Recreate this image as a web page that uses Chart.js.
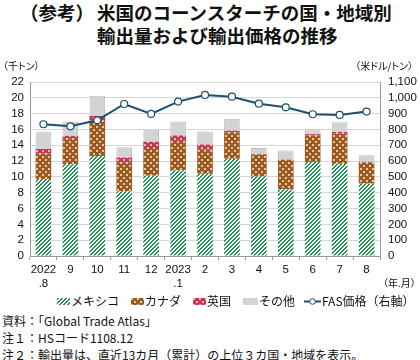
<!DOCTYPE html>
<html>
<head>
<meta charset="utf-8">
<script src="https://cdn.jsdelivr.net/npm/chart.js@4"></script>
<style>
  body { margin: 0; background: #fff; }
  #wrap { position: relative; width: 420px; height: 360px; overflow: hidden;
          font-family: "Noto Sans CJK JP", sans-serif; color: #111; }
  #wrap div { position: absolute; white-space: nowrap; line-height: 1; }
  #chart { position: absolute; left: 0; top: 60px; }
  .sw { position: absolute; }
  .small { font-size: 10px; font-feature-settings: "palt"; }
  .leg { font-size: 12px; }
  .note { font-size: 12px; left: 2px; }
</style>
</head>
<body>
<div id="wrap">
  <canvas id="chart" width="420" height="232" style="width:420px;height:232px"></canvas>

  <div style="left:20px;top:3px;font-size:18.5px;font-weight:bold">（参考）</div>
  <div style="left:97px;top:3px;font-size:18.5px;font-weight:bold">米国のコーンスターチの国・地域別</div>
  <div style="left:97px;top:26px;font-size:18.5px;font-weight:bold">輸出量および輸出価格の推移</div>

  <div class="small" style="left:3px;top:61px">（千トン）</div>
  <div class="small" style="right:7px;top:61px">（米ドル/トン）</div>
  <div class="small" style="left:383px;top:278px">（年.月）</div>

  <canvas class="sw" id="sw0" width="13" height="7" style="left:57px;top:298px"></canvas>
  <div class="leg" style="left:71px;top:295px">メキシコ</div>
  <canvas class="sw" id="sw1" width="13" height="7" style="left:131px;top:298px"></canvas>
  <div class="leg" style="left:145px;top:295px">カナダ</div>
  <canvas class="sw" id="sw2" width="13" height="7" style="left:193px;top:298px"></canvas>
  <div class="leg" style="left:207px;top:295px">英国</div>
  <canvas class="sw" id="sw3" width="15" height="7" style="left:243px;top:298px"></canvas>
  <div class="leg" style="left:259px;top:295px">その他</div>
  <canvas class="sw" id="sw4" width="17" height="9" style="left:304px;top:297px"></canvas>
  <div class="leg" style="left:322px;top:295px">FAS価格（右軸）</div>

  <div class="note" style="top:315px">資料：「Global Trade Atlas」</div>
  <div class="note" style="top:332px">注１：HSコード1108.12</div>
  <div class="note" style="top:349px">注２：輸出量は、直近13カ月（累計）の上位３カ国・地域を表示。</div>
</div>

<script>
const months = [["2022", ".8"], "9", "10", "11", "12", ["2023", ".1"], "2", "3", "4", "5", "6", "7", "8"];
const mexico = [9.75, 11.6, 12.65, 8.2, 10.15, 10.85, 10.4, 12.3, 10.05, 8.45, 11.9, 11.65, 9.15];
const canada = [3.2, 3.3, 4.3, 3.6, 3.5, 3.7, 3.1, 3.3, 2.8, 3.7, 3.35, 3.85, 2.7];
const uk = [0.6, 0.3, 0.75, 0.65, 0.8, 0.7, 0.6, 0.25, 0.05, 0.05, 0.15, 0.2, 0.05];
const others = [2.2, 1.8, 2.55, 1.3, 1.55, 1.75, 1.65, 1.5, 0.75, 1.15, 0.6, 1.2, 0.85];
const fasPrice = [833, 820, 858, 961, 898, 976, 1018, 1007, 963, 940, 896, 892, 913];

const lineColor = "#1d4f6e";

function makePattern(size, bg, fg, cells) {
  const c = document.createElement("canvas");
  c.width = size;
  c.height = size;
  const g = c.getContext("2d");
  g.fillStyle = bg;
  g.fillRect(0, 0, size, size);
  g.fillStyle = fg;
  cells.forEach(([x, y, s]) => g.fillRect(x, y, s, s));
  return c;
}

// diagonal hatching for Mexico
const diag = [];
for (let y = 0; y < 4; y++) {
  for (let x = 0; x < 4; x++) {
    if ((x + y) % 4 < 2) diag.push([x, y, 1]);
  }
}
const dots = [[0, 0, 2], [3, 3, 2]];

const ctx = document.getElementById("chart");
const c2d = ctx.getContext("2d");
const tiles = [
  makePattern(4, "#ffffff", "#23905a", diag),
  makePattern(6, "#9b5a24", "#e9c79c", dots),
  makePattern(6, "#c33a50", "#f3b2bf", dots),
];
const mexFill = c2d.createPattern(tiles[0], "repeat");
const canFill = c2d.createPattern(tiles[1], "repeat");
const ukFill = c2d.createPattern(tiles[2], "repeat");
const otherFill = "#d3d3d3";

// legend swatches
[0, 1, 2].forEach((i) => {
  const s = document.getElementById("sw" + i).getContext("2d");
  s.fillStyle = s.createPattern(tiles[i], "repeat");
  s.fillRect(0, 0, 13, 7);
});
(function () {
  const s = document.getElementById("sw3").getContext("2d");
  s.fillStyle = otherFill;
  s.fillRect(0, 0, 15, 7);
  const l = document.getElementById("sw4").getContext("2d");
  l.strokeStyle = lineColor;
  l.lineWidth = 2;
  l.beginPath();
  l.moveTo(0, 4.5);
  l.lineTo(17, 4.5);
  l.stroke();
  l.fillStyle = "#fff";
  l.lineWidth = 1;
  l.beginPath();
  l.arc(8.5, 4.5, 2.8, 0, Math.PI * 2);
  l.fill();
  l.stroke();
})();

Chart.defaults.font.family = "'Liberation Sans', Arial, sans-serif";
Chart.defaults.font.size = 11.5;
Chart.defaults.color = "#111";

const barOpts = { barPercentage: 0.58, categoryPercentage: 1, borderWidth: 0, order: 1 };

new Chart(ctx, {
  type: "bar",
  data: {
    labels: months,
    datasets: [
      { label: "メキシコ", data: mexico, backgroundColor: mexFill, ...barOpts },
      { label: "カナダ", data: canada, backgroundColor: canFill, ...barOpts },
      { label: "英国", data: uk, backgroundColor: ukFill, ...barOpts },
      { label: "その他", data: others, backgroundColor: otherFill,
        ...barOpts, borderWidth: 1, borderColor: "#bdbdbd", borderSkipped: "bottom" },
      {
        type: "line",
        label: "FAS価格（右軸）",
        data: fasPrice,
        yAxisID: "y2",
        borderColor: lineColor,
        borderWidth: 2,
        pointRadius: 3.5,
        pointBackgroundColor: "#fff",
        pointBorderColor: lineColor,
        pointBorderWidth: 1.2,
        tension: 0,
        order: 0,
      },
    ],
  },
  options: {
    responsive: false,
    animation: false,
    layout: { padding: { top: 22, left: 0, right: 0, bottom: 0 } },
    plugins: { legend: { display: false }, tooltip: { enabled: false } },
    scales: {
      x: {
        stacked: true,
        offset: true,
        grid: { display: true, drawOnChartArea: false, offset: true, tickLength: 4, color: "#999" },
        border: { color: "#999" },
        ticks: { padding: 3, maxRotation: 0, autoSkip: false },
        afterFit: (s) => { s.height = 36; },
      },
      y: {
        stacked: true,
        min: 0,
        max: 22,
        position: "left",
        ticks: { stepSize: 2, padding: 6, autoSkip: false },
        grid: { color: "#d6d6d6", drawTicks: false },
        border: { color: "#999" },
        afterFit: (s) => { s.width = 30; },
      },
      y2: {
        min: 0,
        max: 1100,
        position: "right",
        ticks: { stepSize: 100, padding: 8, autoSkip: false,
                 callback: (v) => v.toLocaleString("en-US") },
        grid: { drawOnChartArea: false, drawTicks: false },
        border: { color: "#999" },
        afterFit: (s) => { s.width = 40; },
      },
    },
  },
});
</script>
</body>
</html>
